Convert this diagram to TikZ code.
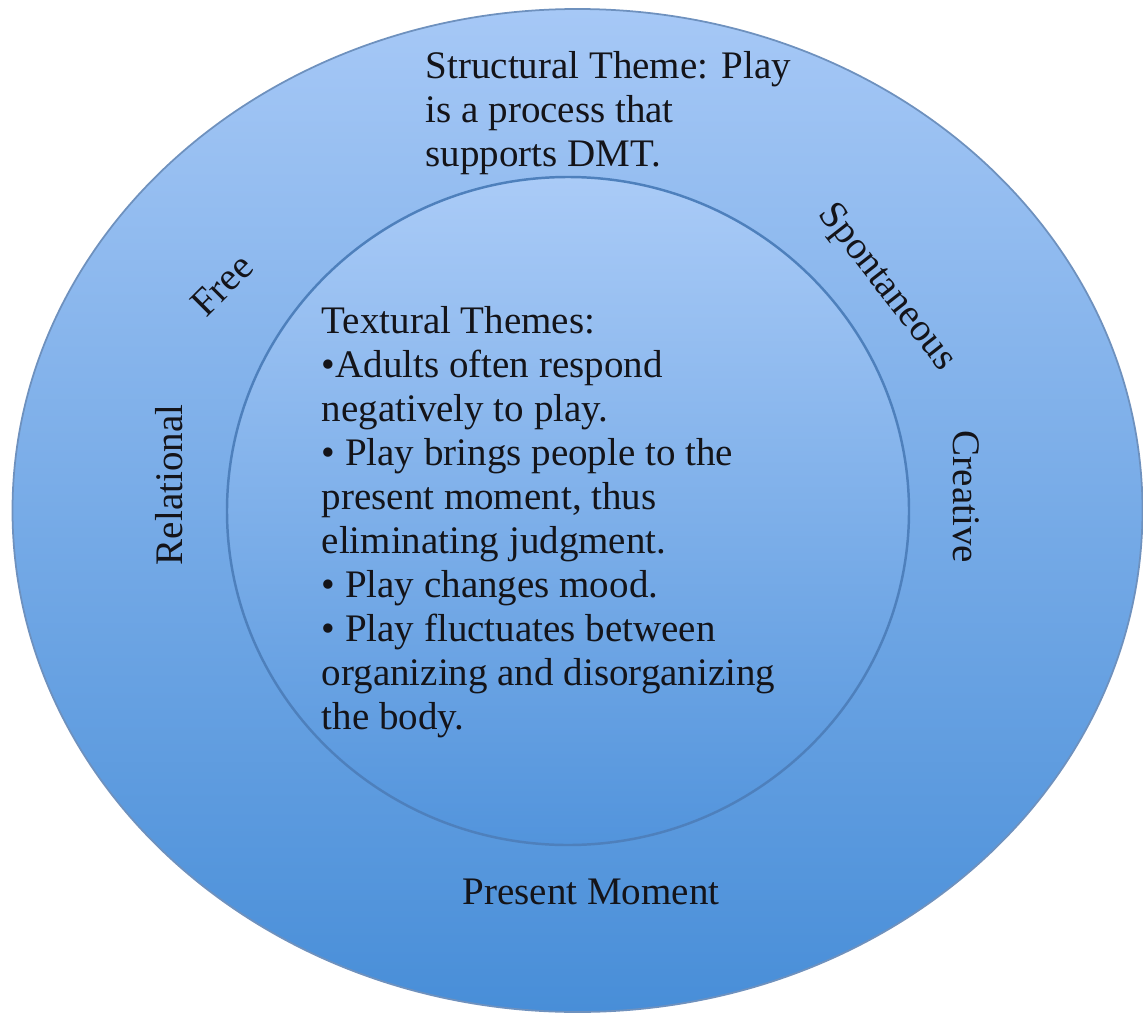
\documentclass[tikz,border=0pt]{standalone}
\usepackage{fontspec}
\setmainfont{Liberation Serif}
\definecolor{ringtop}{RGB}{166,200,246}
\definecolor{ringbot}{RGB}{72,142,216}
\definecolor{coretop}{RGB}{170,203,247}
\definecolor{corebot}{RGB}{82,148,220}
\definecolor{ringline}{RGB}{110,145,190}
\definecolor{coreline}{RGB}{78,128,188}
\definecolor{txt}{RGB}{20,20,25}
\usetikzlibrary{shapes.geometric}

\begin{document}
\begin{tikzpicture}[
    word/.style={font=\fontsize{11.1}{12.52}\selectfont, text=txt, inner sep=0pt},
    block/.style={word, align=left, anchor=north west}
]
\useasboundingbox (0,0) rectangle (11.43,10.15);

% === Outer ring ===
\node (outer) [ellipse, draw=ringline, line width=0.5pt, top color=ringtop, bottom color=ringbot,
     minimum width=11.30cm, minimum height=10.03cm, inner sep=0pt] at (5.775,5.045) {};

% === Inner circle ===
\node (inner) [ellipse, draw=coreline, line width=0.7pt, top color=coretop, bottom color=corebot,
     minimum width=6.82cm, minimum height=6.68cm, inner sep=0pt] at (5.68,5.04) {};

% === Structural theme (top of ring) ===
\node (structural) [block] at (4.25,9.64)
     {Structural Theme: Play\\is a process that\\supports DMT.};

% === Qualities around the ring ===
\node (free) [word, rotate=45] at (2.22,7.30) {Free};
\node (relational) [word, rotate=90] at (1.69,5.30) {Relational};
\node (spontaneous) [word, rotate=-52] at (8.86,7.27) {Spontaneous};
\node (creative) [word, rotate=-90] at (9.66,5.18) {Creative};
\node (present) [word] at (5.91,1.23) {Present Moment};

% === Textural themes (inside) ===
\node (textural) [block] at (3.21,7.09) {%
Textural Themes:\\
\textbullet Adults often respond\\
negatively to play.\\
\textbullet\ Play brings people to the\\
present moment, thus\\
eliminating judgment.\\
\textbullet\ Play changes mood.\\
\textbullet\ Play fluctuates between\\
organizing and disorganizing\\
the body.};

\end{tikzpicture}
\end{document}
